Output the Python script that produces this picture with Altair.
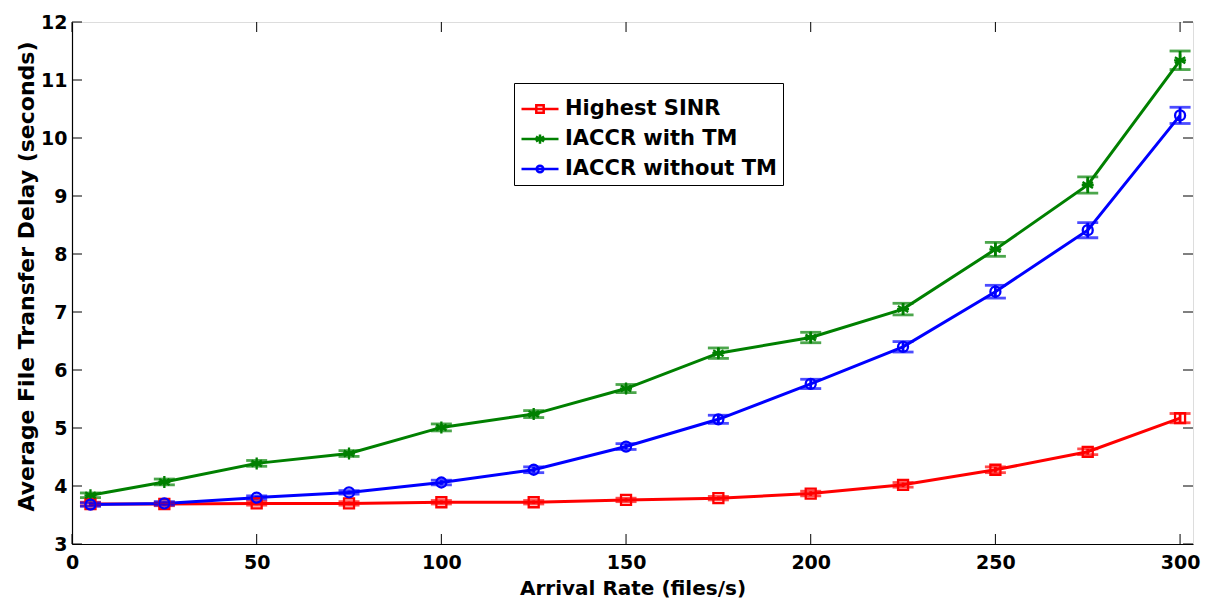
import altair as alt
import pandas as pd

# ---- data ----
x_rate = [5, 25, 50, 75, 100, 125, 150, 175, 200, 225, 250, 275, 300]
highest_sinr = [3.69, 3.69, 3.70, 3.70, 3.72, 3.72, 3.76, 3.79, 3.87, 4.02, 4.28, 4.59, 5.17]
iaccr_tm = [3.84, 4.07, 4.39, 4.56, 5.01, 5.24, 5.68, 6.29, 6.56, 7.05, 8.08, 9.19, 11.34]
iaccr_no_tm = [3.68, 3.70, 3.80, 3.89, 4.06, 4.28, 4.68, 5.15, 5.76, 6.40, 7.35, 8.41, 10.39]
err_sinr = [0.03, 0.03, 0.03, 0.03, 0.03, 0.03, 0.03, 0.03, 0.04, 0.04, 0.05, 0.05, 0.08]
err_tm = [0.04, 0.05, 0.05, 0.05, 0.06, 0.06, 0.07, 0.09, 0.09, 0.10, 0.12, 0.14, 0.16]
err_no_tm = [0.03, 0.03, 0.03, 0.03, 0.04, 0.05, 0.05, 0.07, 0.08, 0.09, 0.11, 0.13, 0.14]

series_names = ["Highest SINR", "IACCR with TM", "IACCR without TM"]
series_colors = ["#FF0000", "#008000", "#0000FF"]
x_ticks = [0, 50, 100, 150, 200, 250, 300]
y_ticks = [3, 4, 5, 6, 7, 8, 9, 10, 11, 12]

marker_paths = [
    "M-1,-1L1,-1L1,1L-1,1Z",
    "M0,-1.2L0,1.2M-1.04,-0.6L1.04,0.6M-1.04,0.6L1.04,-0.6M-1.2,0L1.2,0",
    "M-1,0A1,1,0,1,1,1,0A1,1,0,1,1,-1,0",
]
legend_paths = [
    "M-1,0L1,0M-0.2,-0.2L0.2,-0.2L0.2,0.2L-0.2,0.2Z",
    "M-1,0L1,0M0,-0.25L0,0.25M-0.22,-0.13L0.22,0.13M-0.22,0.13L0.22,-0.13",
    "M-1,0L1,0M-0.18,0A0.18,0.18,0,1,1,0.18,0A0.18,0.18,0,1,1,-0.18,0",
]

rows = []
for name, ys, es in zip(series_names, [highest_sinr, iaccr_tm, iaccr_no_tm],
                        [err_sinr, err_tm, err_no_tm]):
    for xv, yv, ev in zip(x_rate, ys, es):
        rows.append({"series": name, "x": xv, "y": yv, "lo": yv - ev, "hi": yv + ev})
df = pd.DataFrame(rows)
xt = pd.DataFrame({"v": x_ticks})
yt = pd.DataFrame({"v": y_ticks})

W, H = 1121, 522
FONT = "DejaVu Sans"

xscale = alt.Scale(domain=[0, 303.5], nice=False, zero=False)
yscale = alt.Scale(domain=[3, 12], nice=False, zero=False)
cscale = alt.Scale(domain=series_names, range=series_colors)

xenc = alt.X("x:Q", scale=xscale, axis=alt.Axis(
    values=x_ticks, format="d", title="Arrival Rate (files/s)", ticks=False, tickSize=0,
    labelPadding=9, grid=False, domainColor="black", domainWidth=1.2,
    labelFont=FONT, labelFontSize=19, labelFontWeight="bold", labelColor="black",
    titleFont=FONT, titleFontSize=20, titleFontWeight="bold", titleColor="black",
    titlePadding=6, labelFlush=False))
yenc = alt.Y("y:Q", scale=yscale, axis=alt.Axis(
    values=y_ticks, format="d", title="Average File Transfer Delay (seconds)",
    ticks=False, tickSize=0,
    labelPadding=5, grid=False, domainColor="black", domainWidth=1.2,
    labelFont=FONT, labelFontSize=19, labelFontWeight="bold", labelColor="black",
    titleFont=FONT, titleFontSize=22, titleFontWeight="bold", titleColor="black",
    titleX=-39, titleY=254, titleBaseline="alphabetic", titleAngle=270))

color_nolegend = alt.Color("series:N", scale=cscale, legend=None)
base = alt.Chart(df)

lines = base.mark_line(strokeWidth=3).encode(x=xenc, y=yenc, color=color_nolegend,
                                              detail="series:N")
bars = base.mark_rule(strokeWidth=2.8).encode(x="x:Q", y="lo:Q", y2="hi:Q", color=color_nolegend)
cap_lo = base.mark_tick(orient="horizontal", size=21, thickness=2.8).encode(
    x="x:Q", y="lo:Q", color=color_nolegend)
cap_hi = base.mark_tick(orient="horizontal", size=21, thickness=2.8).encode(
    x="x:Q", y="hi:Q", color=color_nolegend)
markers = base.mark_point(filled=False, strokeWidth=2.3, size=100, opacity=1).encode(
    x="x:Q", y="y:Q", color=color_nolegend,
    shape=alt.Shape("series:N", scale=alt.Scale(domain=series_names, range=marker_paths),
                    legend=None))
legend_layer = base.mark_point(filled=False, strokeWidth=2.5, opacity=0).encode(
    x="x:Q", y="y:Q",
    color=alt.Color("series:N", scale=cscale, legend=alt.Legend(
        title=None, orient="none", legendX=442, legendY=61,
        strokeColor="black", fillColor="white", padding=6,
        labelFont=FONT, labelFontSize=21, labelFontWeight="bold", labelColor="black",
        labelLimit=500,
        symbolSize=1369, symbolStrokeWidth=2.5, symbolOpacity=1,
        labelOffset=5, rowPadding=0)),
    shape=alt.Shape("series:N", scale=alt.Scale(domain=series_names, range=legend_paths),
                    legend=alt.Legend(title=None, orient="none", legendX=442, legendY=61)))

tick_b = alt.Chart(xt).mark_rule(color="black", strokeWidth=1).encode(
    x=alt.X("v:Q", scale=xscale), y=alt.value(H), y2=alt.value(H - 10))
tick_t = alt.Chart(xt).mark_rule(color="black", strokeWidth=1).encode(
    x=alt.X("v:Q", scale=xscale), y=alt.value(0), y2=alt.value(10))
tick_l = alt.Chart(yt).mark_rule(color="black", strokeWidth=1).encode(
    y=alt.Y("v:Q", scale=yscale), x=alt.value(0), x2=alt.value(10))
tick_r = alt.Chart(yt).mark_rule(color="black", strokeWidth=1).encode(
    y=alt.Y("v:Q", scale=yscale), x=alt.value(W), x2=alt.value(W - 10))

chart = alt.layer(
    tick_b, tick_t, tick_l, tick_r, lines, bars, cap_lo, cap_hi, markers, legend_layer
).resolve_scale(shape="independent", color="independent").resolve_legend(
    shape="independent", color="independent"
).properties(
    width=W, height=H,
    autosize=alt.AutoSizeParams(type="none"),
    padding={"left": 64, "top": 14, "right": 10, "bottom": 55},
).configure_view(stroke="black", strokeWidth=1.2).configure(background="white")

chart.save("out.html", embed_options={"renderer": "svg", "actions": False})
